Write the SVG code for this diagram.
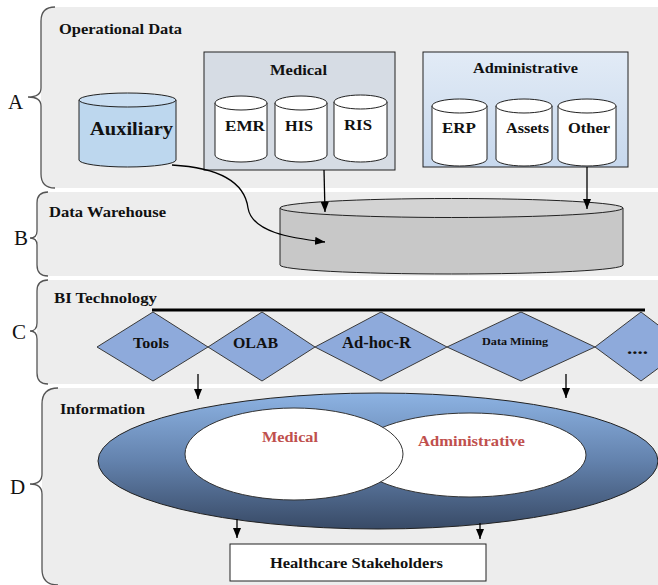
<svg xmlns="http://www.w3.org/2000/svg" width="658" height="585" viewBox="0 0 658 585">
<defs>
<linearGradient id="admGrad" x1="0" y1="0" x2="0" y2="1">
<stop offset="0" stop-color="#e2ebf6"/>
<stop offset="1" stop-color="#c7d8ed"/>
</linearGradient>
<linearGradient id="infoGrad" x1="0" y1="0" x2="0" y2="1">
<stop offset="0" stop-color="#8db3e3"/>
<stop offset="0.5" stop-color="#6382ad"/>
<stop offset="1" stop-color="#384a66"/>
</linearGradient>
<marker id="arr" viewBox="0 0 10 8" refX="10" refY="4" markerWidth="10" markerHeight="8" markerUnits="userSpaceOnUse" orient="auto" preserveAspectRatio="none">
<path d="M0,0 L10,4 L0,8 z" fill="#000"/>
</marker>
</defs>
<style>
.band{fill:#ededed;stroke:none}
.brace{fill:none;stroke:#555;stroke-width:1.3}
.lbl{font-family:"Liberation Serif",serif;font-size:21px;fill:#111}
.t{font-family:"Liberation Serif",serif;font-weight:bold;font-size:15px;fill:#111}
.tc{text-anchor:middle}
.cyl{fill:#fff;stroke:#222;stroke-width:1}
.dia{fill:#8eaadb;stroke:#3a3a3a;stroke-width:1}
.red{fill:#c0504d}
.con{fill:none;stroke:#000;stroke-width:1.3;marker-end:url(#arr)}
</style>

<g id="bandA">
<path class="band" d="M55,7 H658 V188 H55 Q41,188 41,174 V21 Q41,7 55,7 Z"/>
<path class="brace" d="M55,7 Q41,7 41,21 V88 Q41,97 28,97 Q41,97 41,106 V174 Q41,188 55,188"/>
<text class="lbl" x="8" y="109">A</text>
<text class="t" x="59" y="34" textLength="123" lengthAdjust="spacingAndGlyphs">Operational Data</text>
</g>
<g id="bandB">
<path class="band" d="M48,192 H658 V276 H48 Q37,276 37,265 V203 Q37,192 48,192 Z"/>
<path class="brace" d="M48,192 Q37,192 37,203 V231 Q37,238 30,238 Q37,238 37,245 V265 Q37,276 48,276"/>
<text class="lbl" x="14" y="245">B</text>
<text class="t" x="49" y="217" textLength="117" lengthAdjust="spacingAndGlyphs">Data Warehouse</text>
</g>
<g id="bandC">
<path class="band" d="M48,280 H658 V384 H48 Q37,384 37,373 V291 Q37,280 48,280 Z"/>
<path class="brace" d="M48,280 Q37,280 37,291 V323 Q37,331 30,331 Q37,331 37,339 V373 Q37,384 48,384"/>
<text class="lbl" x="12" y="339">C</text>
<text class="t" x="54" y="303" textLength="103" lengthAdjust="spacingAndGlyphs">BI Technology</text>
</g>
<g id="bandD">
<path class="band" d="M58,388 H658 V585 H58 Q42,585 42,569 V404 Q42,388 58,388 Z"/>
<path class="brace" d="M58,388 Q42,388 42,404 V474 Q42,484 30,484 Q42,484 42,494 V569 Q42,585 58,585"/>
<text class="lbl" x="10" y="494">D</text>
<text class="t" x="60" y="414" textLength="85" lengthAdjust="spacingAndGlyphs">Information</text>
</g>

<g id="auxiliary">
<path d="M79,100 V160 A48.5,7 0 0 0 176,160 V100" fill="#bdd7ee" stroke="#222"/>
<ellipse cx="127.5" cy="100" rx="48.5" ry="7" fill="#c9def2" stroke="#222"/>
<text class="t tc" x="131.5" y="135" style="font-size:19px" textLength="83" lengthAdjust="spacingAndGlyphs">Auxiliary</text>
</g>

<g id="medical">
<rect x="204" y="52" width="191" height="118" fill="#d6dce4" stroke="#222"/>
<text class="t tc" x="298.5" y="75" textLength="57" lengthAdjust="spacingAndGlyphs">Medical</text>
<g id="emr">
<path class="cyl" d="M215,103 V155 A26,7 0 0 0 267,155 V103"/>
<ellipse class="cyl" cx="241" cy="103" rx="26" ry="7"/>
<text class="t tc" x="245" y="131" textLength="40" lengthAdjust="spacingAndGlyphs">EMR</text>
</g>
<g id="his">
<path class="cyl" d="M275,103 V155 A26,7 0 0 0 327,155 V103"/>
<ellipse class="cyl" cx="301" cy="103" rx="26" ry="7"/>
<text class="t tc" x="299" y="131" textLength="28" lengthAdjust="spacingAndGlyphs">HIS</text>
</g>
<g id="ris">
<path class="cyl" d="M334,102 V155 A26.5,7 0 0 0 387,155 V102"/>
<ellipse class="cyl" cx="360.5" cy="102" rx="26.5" ry="7"/>
<text class="t tc" x="358" y="130" textLength="28" lengthAdjust="spacingAndGlyphs">RIS</text>
</g>
</g>

<g id="administrative">
<rect x="423" y="52" width="205" height="115" fill="url(#admGrad)" stroke="#222"/>
<text class="t tc" x="525.5" y="73" textLength="105" lengthAdjust="spacingAndGlyphs">Administrative</text>
<g id="erp">
<path class="cyl" d="M432,106 V159 A27.5,7 0 0 0 487,159 V106"/>
<ellipse class="cyl" cx="459.5" cy="106" rx="27.5" ry="7"/>
<text class="t tc" x="459" y="133" textLength="34" lengthAdjust="spacingAndGlyphs">ERP</text>
</g>
<g id="assets">
<path class="cyl" d="M496,106 V159 A28,7 0 0 0 552,159 V106"/>
<ellipse class="cyl" cx="524" cy="106" rx="28" ry="7"/>
<text class="t tc" x="527.5" y="133" textLength="43" lengthAdjust="spacingAndGlyphs" style="font-size:14px">Assets</text>
</g>
<g id="other">
<path class="cyl" d="M558,106 V159 A29,7 0 0 0 616,159 V106"/>
<ellipse class="cyl" cx="587" cy="106" rx="29" ry="7"/>
<text class="t tc" x="589" y="133" textLength="42" lengthAdjust="spacingAndGlyphs">Other</text>
</g>
</g>

<g id="warehouse">
<path d="M280,208 V265 A171.5,9 0 0 0 623,265 V208" fill="#c8c8c8" stroke="#222"/>
<ellipse cx="451.5" cy="208" rx="171.5" ry="9.5" fill="#d3d3d3" stroke="#222"/>
</g>

<g id="bi-line">
<line x1="152" y1="310" x2="645" y2="310" stroke="#000" stroke-width="3"/>
</g>
<g id="tools">
<polygon class="dia" points="97,347 153,312 208,347 153,381"/>
<text class="t tc" x="151" y="348" textLength="36" lengthAdjust="spacingAndGlyphs">Tools</text>
</g>
<g id="olab">
<polygon class="dia" points="208,347 262,312 315,347 262,381"/>
<text class="t tc" x="255.5" y="348" textLength="45" lengthAdjust="spacingAndGlyphs">OLAB</text>
</g>
<g id="adhoc">
<polygon class="dia" points="315,347 381,312 447,347 381,381"/>
<text class="t tc" x="376.5" y="348" textLength="69" lengthAdjust="spacingAndGlyphs" style="font-size:16px">Ad-hoc-R</text>
</g>
<g id="datamining">
<polygon class="dia" points="447,347 521,312 595,347 521,381"/>
<text class="t tc" x="515" y="345" textLength="66" lengthAdjust="spacingAndGlyphs" style="font-size:11px">Data Mining</text>
</g>
<g id="more">
<polygon class="dia" points="595,347 641,312 687,347 641,381"/>
<text class="t tc" x="637.5" y="354" textLength="21" lengthAdjust="spacingAndGlyphs" style="font-size:17px">....</text>
</g>

<g id="information">
<ellipse cx="378" cy="461" rx="280" ry="68" fill="url(#infoGrad)" stroke="#222" stroke-width="1"/>
<g id="info-admin">
<ellipse cx="470" cy="455" rx="116" ry="42" fill="#fff" stroke="#333"/>
<text class="t tc red" x="471.5" y="446" textLength="107" lengthAdjust="spacingAndGlyphs">Administrative</text>
</g>
<g id="info-medical">
<ellipse cx="294" cy="454" rx="109" ry="46" fill="#fff" stroke="#333"/>
<text class="t tc red" x="290" y="442" textLength="56" lengthAdjust="spacingAndGlyphs">Medical</text>
</g>
</g>

<g id="stakeholders">
<rect x="230" y="544" width="256" height="37" fill="#fff" stroke="#222"/>
<text class="t tc" x="356.5" y="568" textLength="173" lengthAdjust="spacingAndGlyphs">Healthcare Stakeholders</text>
</g>

<g id="connectors">
<path class="con" d="M172,165 C225,168 245,185 248,208 C252,232 290,238 325,242"/>
<line class="con" x1="324" y1="170" x2="325" y2="212"/>
<line class="con" x1="587" y1="167" x2="587" y2="209"/>
<line class="con" x1="198" y1="374" x2="198" y2="399"/>
<line class="con" x1="566" y1="374" x2="566" y2="398"/>
<line class="con" x1="237" y1="519" x2="237" y2="538"/>
<line class="con" x1="480" y1="523" x2="480" y2="539"/>
</g>
</svg>
